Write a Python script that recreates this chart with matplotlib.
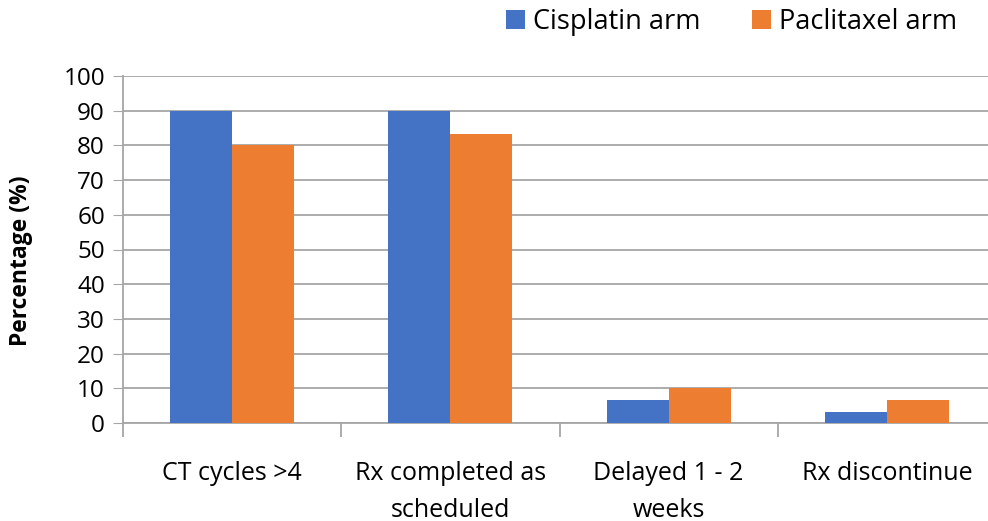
import numpy as np
import matplotlib.pyplot as plt

# Data
categories = ['CT cycles >4', 'Rx completed as\nscheduled', 'Delayed 1 - 2\nweeks', 'Rx discontinue']
cisplatin = [90, 90, 6.7, 3.3]
paclitaxel = [80, 83.3, 10, 6.7]
series_names = ['Cisplatin arm', 'Paclitaxel arm']
colors = ['#4472C4', '#ED7D31']

plt.rcParams['font.family'] = ['Open Sans', 'DejaVu Sans']

fig = plt.figure(figsize=(9.88, 5.21), dpi=100)
ax = fig.add_axes([123 / 988, 1 - 423 / 521, 873 / 988, 347 / 521])

x = np.arange(len(categories))
width = 0.284
ax.bar(x - width / 2, cisplatin, width, color=colors[0], label=series_names[0], zorder=3)
ax.bar(x + width / 2, paclitaxel, width, color=colors[1], label=series_names[1], zorder=3)

ax.set_xlim(-0.5, len(categories) - 0.5)
ax.set_ylim(0, 100)
ax.set_yticks(range(0, 101, 10))
ax.tick_params(axis='y', labelsize=17.5, length=7, color='#a6a6a6', pad=6)
ax.yaxis.grid(True, color='#a6a6a6', linewidth=1.3, zorder=0)

# category labels centred, ticks at category boundaries
ax.set_xticks(x)
ax.set_xticklabels(categories, fontsize=18, linespacing=1.65)
ax.tick_params(axis='x', length=0, pad=27)
ax.set_xticks(np.arange(-0.5, len(categories), 1), minor=True)
ax.tick_params(axis='x', which='minor', length=10, color='#a6a6a6', width=1.3)

for side in ['top', 'right']:
    ax.spines[side].set_visible(False)
for side in ['left', 'bottom']:
    ax.spines[side].set_color('#a6a6a6')
    ax.spines[side].set_linewidth(1.3)

ax.set_ylabel('Percentage (%)', fontsize=16.5, fontweight='bold')
ax.yaxis.set_label_coords(33 / 988, 0.5, transform=fig.transFigure)

ax.legend(loc='upper left', bbox_to_anchor=(490 / 988, 1.015), bbox_transform=fig.transFigure,
          ncol=2, frameon=False, fontsize=19.5, handlelength=0.7, handleheight=0.7,
          handletextpad=0.3, columnspacing=1.9, borderaxespad=0.2)

fig.savefig('out.png', dpi=100)
